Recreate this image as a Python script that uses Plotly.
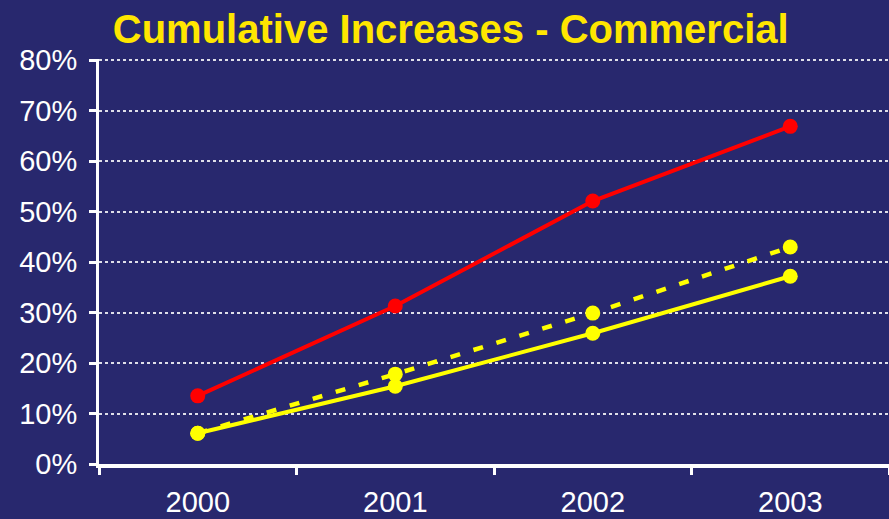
import plotly.graph_objects as go

# Cumulative rate increases for commercial customers (percent)
years = ["2000", "2001", "2002", "2003"]
series_red = [13.5, 31.3, 52.1, 66.9]
series_yellow_solid = [6.1, 15.4, 25.9, 37.2]
series_yellow_dashed = [6.1, 17.8, 29.9, 43.0]
y_ticks = [0, 10, 20, 30, 40, 50, 60, 70, 80]
y_labels = [f"{v}%" for v in y_ticks]

BG = "#28286E"
FONT = "Liberation Sans, Arial, sans-serif"

fig = go.Figure()
fig.add_trace(go.Scatter(
    x=years, y=series_yellow_dashed, mode="lines+markers",
    line=dict(color="#FFFF00", width=4.5, dash="10px,14px"),
    marker=dict(color="#FFFF00", size=15),
))
fig.add_trace(go.Scatter(
    x=years, y=series_yellow_solid, mode="lines+markers",
    line=dict(color="#FFFF00", width=4),
    marker=dict(color="#FFFF00", size=15),
))
fig.add_trace(go.Scatter(
    x=years, y=series_red, mode="lines+markers",
    line=dict(color="#FF0000", width=4),
    marker=dict(color="#FF0000", size=15),
))

fig.update_layout(
    width=889, height=519,
    paper_bgcolor=BG, plot_bgcolor=BG,
    margin=dict(l=99, r=0, t=59, b=55),
    showlegend=False,
    title=dict(
        text="<b>Cumulative Increases - Commercial</b>",
        font=dict(family=FONT, size=40, color="#FFE600"),
        x=0.507, xanchor="center", xref="container",
        y=0.945, yanchor="middle",
    ),
    font=dict(family=FONT, color="white", size=29),
)
fig.update_xaxes(
    type="category", range=[-0.5, 3.5],
    tickson="boundaries", ticks="outside", ticklen=7, tickwidth=3, tickcolor="white",
    showline=True, linecolor="white", linewidth=4,
    showgrid=False, zeroline=False, ticklabelstandoff=9, automargin=False,
    tickfont=dict(family=FONT, size=29, color="white"),
)
fig.update_yaxes(
    range=[0, 80.25], tickvals=y_ticks, ticktext=y_labels,
    ticks="outside", ticklen=7, tickwidth=3, tickcolor="white",
    showline=True, linecolor="white", linewidth=3,
    showgrid=True, gridcolor="rgba(255,255,255,0.85)", griddash="dot", gridwidth=1.5,
    zeroline=False, ticklabelstandoff=6, automargin=False,
    tickfont=dict(family=FONT, size=29, color="white"),
)

fig.write_html("out.html")
